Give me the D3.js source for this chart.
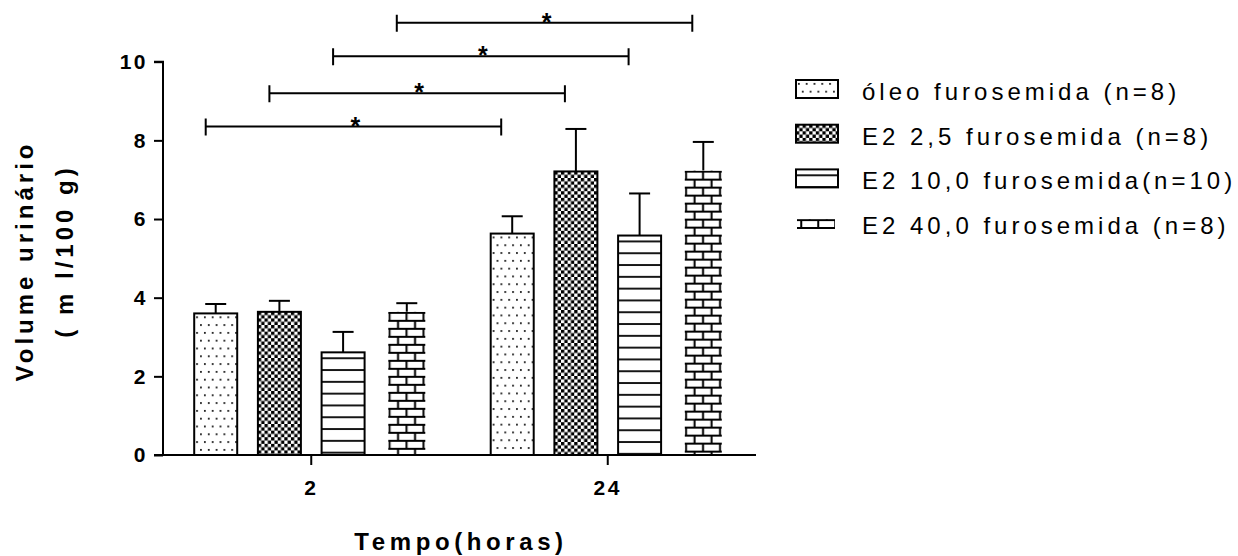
<!DOCTYPE html>
<html>
<head>
<meta charset="utf-8">
<script src="https://cdn.jsdelivr.net/npm/d3@7"></script>
<style>
  html, body { margin: 0; padding: 0; background: #fff; }
  svg { display: block; font-family: "Liberation Sans", Arial, sans-serif; }
</style>
</head>
<body>
<svg id="chart" width="1238" height="556"></svg>
<script>
// Time points (hours)
const categories = ["2", "24"];

// Treatment groups
const seriesNames = [
  "óleo furosemida (n=8)",
  "E2 2,5 furosemida (n=8)",
  "E2 10,0 furosemida(n=10)",
  "E2 40,0 furosemida (n=8)"
];

// Mean urinary volume (ml/100 g) per group, at 2 h and 24 h
const oleoMean   = [3.60, 5.63];
const e2_25Mean  = [3.64, 7.21];
const e2_10Mean  = [2.61, 5.58];
const e2_40Mean  = [3.64, 7.23];

// Standard error (upper bar only)
const oleoErr    = [0.24, 0.44];
const e2_25Err   = [0.28, 1.08];
const e2_10Err   = [0.52, 1.07];
const e2_40Err   = [0.22, 0.73];

const yTicks = [0, 2, 4, 6, 8, 10];

// Significance brackets: same group, 2 h vs 24 h
const bracketSeries = [0, 1, 2, 3];
const bracketLevel  = [8.35, 9.2, 10.14, 10.99];
const bracketMark   = "*";

const means = [oleoMean, e2_25Mean, e2_10Mean, e2_40Mean];
const errs  = [oleoErr, e2_25Err, e2_10Err, e2_40Err];
const fills = ["url(#dots)", "url(#checker)", "url(#hlines)", "url(#bricks)"];

const svg = d3.select("#chart");
const defs = svg.append("defs");

// --- fill patterns ---
const pDots = defs.append("pattern").attr("id", "dots")
  .attr("patternUnits", "userSpaceOnUse").attr("width", 7.8).attr("height", 15.6);
pDots.append("rect").attr("width", 7.8).attr("height", 15.6).attr("fill", "#fff");
pDots.append("rect").attr("x", 2).attr("y", 3).attr("width", 1.7).attr("height", 1.7).attr("fill", "#000");
pDots.append("rect").attr("x", 5.9).attr("y", 10.8).attr("width", 1.7).attr("height", 1.7).attr("fill", "#000");

const pChk = defs.append("pattern").attr("id", "checker")
  .attr("patternUnits", "userSpaceOnUse").attr("width", 6.6).attr("height", 6.6);
pChk.append("rect").attr("width", 6.6).attr("height", 6.6).attr("fill", "#fff");
pChk.append("rect").attr("width", 3.3).attr("height", 3.3).attr("fill", "#000");
pChk.append("rect").attr("x", 3.3).attr("y", 3.3).attr("width", 3.3).attr("height", 3.3).attr("fill", "#000");

const pH = defs.append("pattern").attr("id", "hlines")
  .attr("patternUnits", "userSpaceOnUse").attr("width", 10).attr("height", 11.8);
pH.append("rect").attr("width", 10).attr("height", 11.8).attr("fill", "#fff");
pH.append("line").attr("x1", 0).attr("x2", 10).attr("y1", 5.9).attr("y2", 5.9)
  .attr("stroke", "#000").attr("stroke-width", 1.8);

const bw = 17, bh = 8;
const pB = defs.append("pattern").attr("id", "bricks")
  .attr("patternUnits", "userSpaceOnUse").attr("width", bw).attr("height", bh * 2);
pB.append("rect").attr("width", bw).attr("height", bh * 2).attr("fill", "#fff");
pB.append("path")
  .attr("d", `M0,1H${bw}M0,${bh + 1}H${bw}M${bw * 0.25},1V${bh + 1}M${bw * 0.75},${bh + 1}V${bh * 2 + 1}`)
  .attr("stroke", "#000").attr("stroke-width", 2).attr("fill", "none");

// --- scales ---
const x0 = d3.scaleBand().domain(categories).range([163, 756]).padding(0);
const x1 = d3.scaleBand().domain(d3.range(seriesNames.length))
  .range([0, x0.bandwidth()]).paddingInner(0.325).paddingOuter(0.49);
const y = d3.scaleLinear().domain([0, 10]).range([455, 61.7]);

// --- bars ---
const bars = [];
categories.forEach((c, ci) => {
  seriesNames.forEach((s, si) => {
    bars.push({ c, ci, si, v: means[si][ci], e: errs[si][ci] });
  });
});

const barG = svg.append("g");
bars.forEach(d => {
  const bx = x0(d.c) + x1(d.si);
  const top = y(d.v);
  const g = barG.append("g").attr("transform", `translate(${bx},${top})`);
  const h = y(0) - top;
  // error bar (upper only)
  const cx = x1.bandwidth() / 2;
  const et = y(d.v + d.e) - top;
  g.append("line").attr("x1", cx).attr("x2", cx).attr("y1", 0).attr("y2", et)
    .attr("stroke", "#000").attr("stroke-width", 2);
  g.append("line").attr("x1", cx - 10.5).attr("x2", cx + 10.5).attr("y1", et).attr("y2", et)
    .attr("stroke", "#000").attr("stroke-width", 2);
  if (d.si === 3) {
    g.append("rect").attr("x", 3).attr("y", 0).attr("width", x1.bandwidth() - 6).attr("height", h)
      .attr("fill", fills[d.si]);
  } else {
    g.append("rect").attr("x", 0).attr("y", 0).attr("width", x1.bandwidth()).attr("height", h)
      .attr("fill", fills[d.si]).attr("stroke", "#000").attr("stroke-width", 2);
  }
});

// --- axes ---
const tickFont = g => g.attr("font-size", 21).attr("font-weight", "bold")
  .attr("font-family", "Liberation Sans, Arial, sans-serif").style("letter-spacing", "2.5px");

const yAxis = d3.axisLeft(y).tickValues(yTicks).tickSize(9).tickPadding(6).tickFormat(d3.format("d"));
const yg = svg.append("g").attr("transform", "translate(163,0)").call(yAxis);
yg.select(".domain").attr("stroke-width", 2).attr("d", `M-9,${y(10)}H0V${y(0)}H-9`);
yg.selectAll(".tick line").attr("stroke-width", 2);
yg.selectAll(".tick text").call(tickFont);

const xAxis = d3.axisBottom(x0).tickSize(10).tickPadding(15);
const xg = svg.append("g").attr("transform", `translate(0,${y(0)})`).call(xAxis);
xg.select(".domain").attr("stroke-width", 2).attr("d", `M163,0H756`);
xg.selectAll(".tick line").attr("stroke-width", 2);
xg.selectAll(".tick text").call(tickFont);

// --- axis titles ---
svg.append("text").attr("x", 461).attr("y", 550).attr("text-anchor", "middle")
  .attr("font-size", 24).attr("font-weight", "bold").style("letter-spacing", "4.6px")
  .text("Tempo(horas)");

svg.append("text").attr("transform", "translate(33,261) rotate(-90)").attr("text-anchor", "middle")
  .attr("font-size", 24).attr("font-weight", "bold").style("letter-spacing", "4px")
  .text("Volume urinário");
svg.append("text").attr("transform", "translate(73,251) rotate(-90)").attr("text-anchor", "middle")
  .attr("font-size", 24).attr("font-weight", "bold").style("letter-spacing", "4px")
  .text("( m l/100 g)");

// --- significance brackets ---
const brG = svg.append("g");
bracketSeries.forEach((si, i) => {
  const xa = x0(categories[0]) + x1(si) + x1.bandwidth() / 2 - 10;
  const xb = x0(categories[1]) + x1(si) + x1.bandwidth() / 2 - 11;
  const yy = y(bracketLevel[i]);
  brG.append("path")
    .attr("d", `M${xa},${yy}H${xb}M${xa},${yy - 8}V${yy + 9}M${xb},${yy - 8}V${yy + 9}`)
    .attr("stroke", "#000").attr("stroke-width", 2).attr("fill", "none");
  brG.append("text").attr("x", (xa + xb) / 2 + 2).attr("y", yy + 8).attr("text-anchor", "middle")
    .attr("font-size", 25).attr("font-weight", "bold").text(bracketMark);
});

// --- legend ---
const lg = svg.append("g");
seriesNames.forEach((name, i) => {
  const base = 100 + i * 44.7;
  if (i === 3) {
    const g = lg.append("g").attr("transform", `translate(797,${base - 15})`);
    g.append("rect").attr("width", 38).attr("height", 9).attr("fill", fills[i]);
    g.append("line").attr("x1", 0).attr("x2", 38).attr("y1", 9).attr("y2", 9)
      .attr("stroke", "#000").attr("stroke-width", 2);
  } else {
    const g = lg.append("g").attr("transform", `translate(796,${base - 20})`);
    g.append("rect").attr("width", 42).attr("height", 18).attr("fill", fills[i])
      .attr("stroke", "#000").attr("stroke-width", 2);
  }
  lg.append("text").attr("x", 862).attr("y", base).attr("font-size", 24)
    .style("letter-spacing", "4px").text(name);
});
</script>
</body>
</html>
